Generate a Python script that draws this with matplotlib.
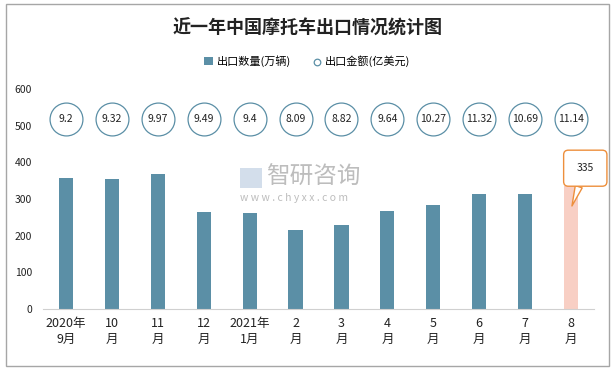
import numpy as np
import matplotlib
matplotlib.use('Agg')
import matplotlib.pyplot as plt
from matplotlib.patches import Rectangle

plt.rcParams['font.family'] = ['Noto Sans CJK SC', 'DejaVu Sans']

# data
months = ['2020年\n9月', '10\n月', '11\n月', '12\n月', '2021年\n1月', '2\n月',
          '3\n月', '4\n月', '5\n月', '6\n月', '7\n月', '8\n月']
volume = [357, 354, 368, 265, 262, 216, 230, 268, 284, 314, 314, 335]
amount = [9.2, 9.32, 9.97, 9.49, 9.4, 8.09, 8.82, 9.64, 10.27, 11.32, 10.69, 11.14]
yticks = [0, 100, 200, 300, 400, 500, 600]

bar_color = '#5b8fa6'
last_color = '#f8cfc4'
circle_y = 518

fig = plt.figure(figsize=(6.15, 3.7), dpi=100)
fig.patches.append(Rectangle((0.009, 0.012), 0.982, 0.976, transform=fig.transFigure,
                             fill=False, edgecolor='#a6a6a6', linewidth=1))

ax = fig.add_axes([43 / 615, 61 / 370, 551 / 615, 220 / 370])
x = np.arange(len(months))
colors = [bar_color] * (len(x) - 1) + [last_color]
bars = ax.bar(x, volume, width=0.31, color=colors, label='出口数量(万辆)', zorder=2)

dots = ax.scatter(x, [circle_y] * len(x), s=560, facecolor='white', edgecolor='#5b8fa6',
                  linewidth=0.9, label='出口金额(亿美元)', zorder=3)
for xi, v in zip(x, amount):
    ax.text(xi, circle_y, f'{v:g}', ha='center', va='center', fontsize=7.5,
            color='#222222', zorder=4)

# callout on the last bar
ax.annotate(f'{volume[-1]}', xy=(x[-1] + 0.02, volume[-1] - 54), xytext=(x[-1] + 0.31, 384),
            ha='center', va='center', fontsize=7.5, color='#222222', zorder=5,
            bbox=dict(boxstyle='round,pad=1.25,rounding_size=0.45', fc='white',
                      ec='#ed8f3c', lw=1),
            arrowprops=dict(arrowstyle='wedge,tail_width=0.7', fc='white',
                            ec='#ed8f3c', lw=1, shrinkA=0, shrinkB=0))

ax.set_xlim(-0.5, 11.5)
ax.set_ylim(0, 600)
ax.set_yticks(yticks)
ax.set_xticks(x)
ax.set_xticklabels(months, fontsize=9, color='#222222', linespacing=1.3)
ax.tick_params(axis='y', labelsize=7.5, colors='#222222', length=0, pad=8)
ax.tick_params(axis='x', length=0, pad=6)
for s in ['top', 'right', 'left']:
    ax.spines[s].set_visible(False)
ax.spines['bottom'].set_color('#d0d0d0')

# watermark
fig.patches.append(Rectangle((240 / 615, 1 - 188 / 370), 22 / 615, 20 / 370,
                             transform=fig.transFigure, fc='#c9d6e6', ec='none', alpha=0.8))
fig.text(266 / 615, 1 - 177 / 370, '智研咨询', fontsize=17, color='#bdbdbd',
         ha='left', va='center')
fig.text(240 / 615, 1 - 198 / 370, 'w w w . c h y x x . c o m', fontsize=7.5,
         color='#bdbdbd', ha='left', va='center')

fig.text(0.5, 0.925, '近一年中国摩托车出口情况统计图', fontsize=13, fontweight='bold',
         ha='center', va='center', color='#222222')

fig.legend([bars, dots], ['出口数量(万辆)', '出口金额(亿美元)'], loc='center',
           bbox_to_anchor=(0.5, 0.835), ncol=2, frameon=False,
           fontsize=8, handlelength=0.8, handletextpad=0.3, columnspacing=2.0,
           markerscale=0.2)

fig.savefig('out.png', dpi=100)
